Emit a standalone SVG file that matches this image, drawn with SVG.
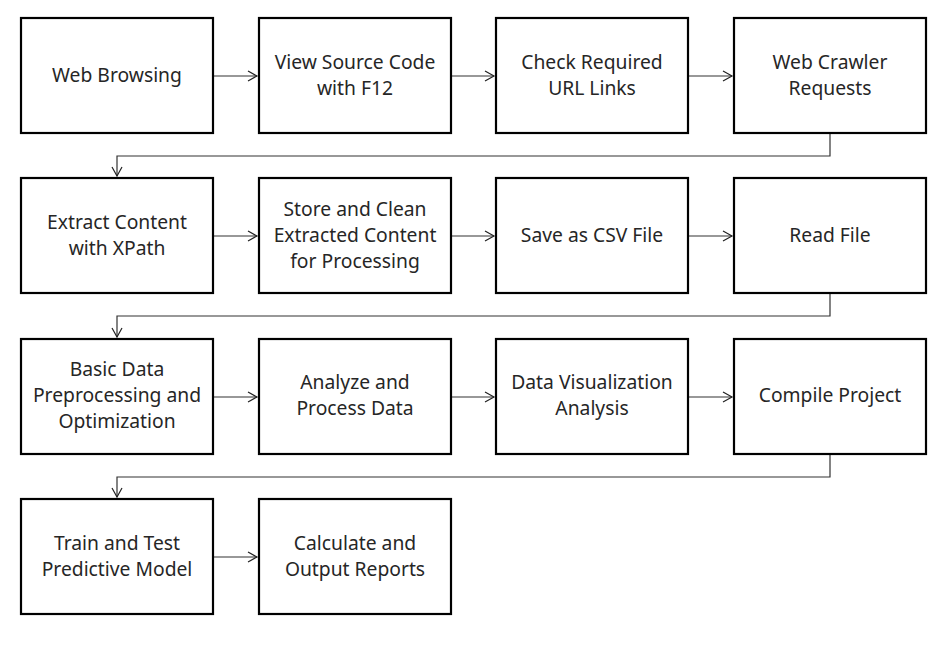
<svg xmlns="http://www.w3.org/2000/svg" width="952" height="646" viewBox="0 0 952 646">
<defs>
<marker id="arr" markerWidth="12" markerHeight="12" refX="10" refY="6" orient="auto" markerUnits="userSpaceOnUse">
<path d="M1,1 L10,6 L1,11" fill="none" stroke="#222" stroke-width="1.2"/>
</marker>
<style>
.box{fill:#fff;stroke:#000;stroke-width:2.2}
.t{font-family:"Noto Sans","Open Sans","Liberation Sans",sans-serif;font-size:19.3px;fill:#262626;text-anchor:middle;dominant-baseline:central}
.c{fill:none;stroke:#333;stroke-width:1.2;marker-end:url(#arr)}
</style>
</defs>
<rect width="952" height="646" fill="#fff"/>
<g id="connectors">
<line class="c" x1="214" y1="76" x2="257" y2="76"/>
<line class="c" x1="451" y1="76" x2="494" y2="76"/>
<line class="c" x1="689" y1="76" x2="732" y2="76"/>
<polyline class="c" points="830,134 830,156 117,156 117,176"/>
<line class="c" x1="214" y1="236" x2="257" y2="236"/>
<line class="c" x1="451" y1="236" x2="494" y2="236"/>
<line class="c" x1="689" y1="236" x2="732" y2="236"/>
<polyline class="c" points="830,294 830,316 117,316 117,337"/>
<line class="c" x1="214" y1="397" x2="257" y2="397"/>
<line class="c" x1="451" y1="397" x2="494" y2="397"/>
<line class="c" x1="689" y1="397" x2="732" y2="397"/>
<polyline class="c" points="830,455 830,477 117,477 117,497"/>
<line class="c" x1="214" y1="557" x2="257" y2="557"/>
</g>
<g id="n1"><rect class="box" x="21" y="18" width="192" height="115"/><text class="t" x="117" y="74">Web Browsing</text></g>
<g id="n2"><rect class="box" x="259" y="18" width="192" height="115"/><text class="t" x="355" y="61">View Source Code</text><text class="t" x="355" y="87">with F12</text></g>
<g id="n3"><rect class="box" x="496" y="18" width="192" height="115"/><text class="t" x="592" y="61">Check Required</text><text class="t" x="592" y="87">URL Links</text></g>
<g id="n4"><rect class="box" x="734" y="18" width="192" height="115"/><text class="t" x="830" y="61">Web Crawler</text><text class="t" x="830" y="87">Requests</text></g>
<g id="n5"><rect class="box" x="21" y="178" width="192" height="115"/><text class="t" x="117" y="221">Extract Content</text><text class="t" x="117" y="247">with XPath</text></g>
<g id="n6"><rect class="box" x="259" y="178" width="192" height="115"/><text class="t" x="355" y="208">Store and Clean</text><text class="t" x="355" y="234">Extracted Content</text><text class="t" x="355" y="260">for Processing</text></g>
<g id="n7"><rect class="box" x="496" y="178" width="192" height="115"/><text class="t" x="592" y="234">Save as CSV File</text></g>
<g id="n8"><rect class="box" x="734" y="178" width="192" height="115"/><text class="t" x="830" y="234">Read File</text></g>
<g id="n9"><rect class="box" x="21" y="339" width="192" height="115"/><text class="t" x="117" y="368">Basic Data</text><text class="t" x="117" y="394">Preprocessing and</text><text class="t" x="117" y="420">Optimization</text></g>
<g id="n10"><rect class="box" x="259" y="339" width="192" height="115"/><text class="t" x="355" y="381">Analyze and</text><text class="t" x="355" y="407">Process Data</text></g>
<g id="n11"><rect class="box" x="496" y="339" width="192" height="115"/><text class="t" x="592" y="381">Data Visualization</text><text class="t" x="592" y="407">Analysis</text></g>
<g id="n12"><rect class="box" x="734" y="339" width="192" height="115"/><text class="t" x="830" y="394">Compile Project</text></g>
<g id="n13"><rect class="box" x="21" y="499" width="192" height="115"/><text class="t" x="117" y="542">Train and Test</text><text class="t" x="117" y="568">Predictive Model</text></g>
<g id="n14"><rect class="box" x="259" y="499" width="192" height="115"/><text class="t" x="355" y="542">Calculate and</text><text class="t" x="355" y="568">Output Reports</text></g>
</svg>
